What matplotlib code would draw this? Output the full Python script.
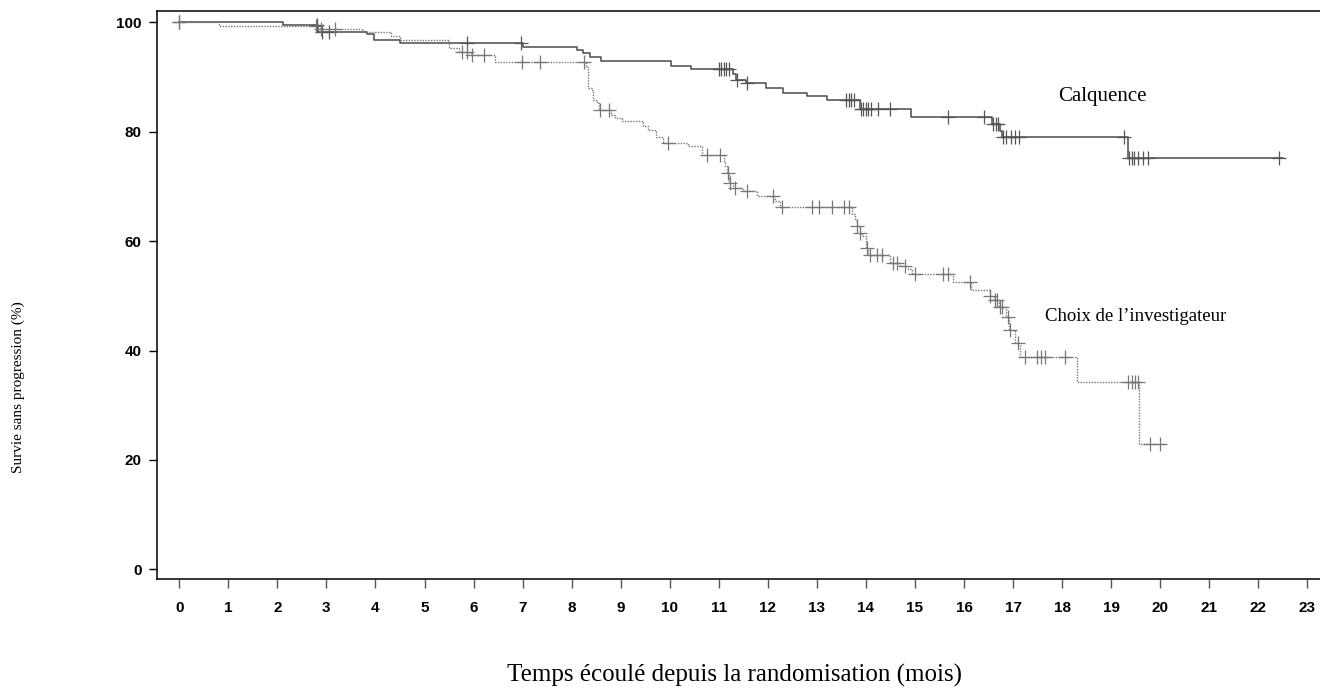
import numpy as np
import matplotlib
matplotlib.use("Agg")
import matplotlib.pyplot as plt

# Kaplan-Meier steps (time in months, survival in %)
calq_t = [0, 2.11, 2.83, 3.83, 3.97, 4.51, 7.0, 8.1, 8.23, 8.37, 8.6, 10.03, 10.43,
          11.3, 11.36, 11.55, 11.96, 12.31, 12.8, 13.2, 13.88, 14.93, 16.57, 16.73,
          16.77, 19.35, 22.5]
calq_s = [100, 99.6, 98.35, 97.9, 96.8, 96.3, 95.6, 95.0, 94.5, 93.6, 93.0, 92.1, 91.5,
          90.6, 89.5, 88.9, 88.0, 87.1, 86.6, 85.9, 84.2, 82.8, 81.5, 80.1,
          79.1, 75.3, 75.3]
calq_cens = [0, 2.8, 2.9, 3.05, 5.87, 6.96, 11.0, 11.05, 11.1, 11.15, 11.2, 11.37, 11.57,
             13.6, 13.65, 13.7, 13.75, 13.9, 13.95, 14.0, 14.05, 14.1, 14.25, 14.5,
             15.68, 16.4, 16.6, 16.65, 16.7, 16.8, 16.85, 16.95, 17.05, 17.12,
             19.26, 19.37, 19.42, 19.47, 19.55, 19.65, 19.75, 22.42]

inv_t = [0, 0.81, 2.87, 3.75, 4.31, 4.5, 5.5, 5.7, 5.95, 6.44, 8.29, 8.34, 8.41, 8.44,
         8.51, 8.55, 8.8, 8.88, 9.02, 9.46, 9.56, 9.73, 9.87, 10.38, 10.65, 11.1, 11.13,
         11.16, 11.21, 11.3, 11.5, 11.77, 12.15, 12.25, 13.72, 13.78, 13.82, 13.87, 13.92,
         14.0, 14.05, 14.49, 14.69, 14.85, 14.95, 15.78, 16.14, 16.53, 16.62, 16.72,
         16.85, 16.91, 17.05, 17.14, 18.3, 19.56, 20.1]
inv_s = [100, 99.4, 98.8, 98.2, 97.6, 96.8, 95.3, 94.6, 94.1, 92.7, 91.95, 88.0, 87.7, 85.9,
         85.3, 84.0, 83.1, 82.5, 81.9, 81.0, 80.4, 79.1, 78.0, 77.4, 75.8, 74.6, 73.7,
         72.4, 70.6, 69.7, 69.1, 68.2, 67.3, 66.3, 65.0, 63.8, 62.8, 61.5, 60.9,
         58.7, 57.5, 56.1, 55.4, 54.9, 54.0, 52.5, 51.1, 49.9, 49.2, 48.0,
         46.2, 43.8, 41.3, 38.9, 34.3, 23.0, 23.0]
inv_cens = [0, 2.78, 2.88, 3.17, 5.76, 5.86, 5.96, 6.21, 6.98, 7.35, 8.25, 8.57, 8.77, 9.97,
            10.75, 11.03, 11.18, 11.23, 11.33, 11.57, 12.11, 12.28, 12.9, 13.05, 13.3, 13.55,
            13.65, 13.82, 13.87, 14.03, 14.08, 14.22, 14.32, 14.56, 14.63, 14.8, 15.0,
            15.58, 15.68, 16.12, 16.53, 16.64, 16.68, 16.74, 16.78, 16.9, 16.93, 17.11,
            17.24, 17.48, 17.58, 17.65, 18.06, 19.35, 19.42, 19.48, 19.55, 19.8, 20.0]

x_ticks = list(range(0, 24))
y_ticks = [0, 20, 40, 60, 80, 100]


def surv_at(times, surv, pts):
    # value of the step function at each censoring time
    idx = np.searchsorted(times, pts, side="right") - 1
    return np.array(surv)[idx]


fig = plt.figure(figsize=(13.2, 7), dpi=100)
ax = fig.add_axes([157 / 1320, 1 - 579 / 700, 1 - 157 / 1320, (579 - 11) / 700])

# curves
ax.plot(calq_t, calq_s, drawstyle="steps-post", color="#4a4a4a", lw=1.1)
ax.plot(inv_t, inv_s, drawstyle="steps-post", color="#777777", lw=1.0,
        linestyle=(0, (1, 1)))

# censoring marks
ax.plot(calq_cens, surv_at(calq_t, calq_s, calq_cens), "+", color="#555555",
        ms=10.5, mew=0.9, ls="none")
ax.plot(inv_cens, surv_at(inv_t, inv_s, inv_cens), "+", color="#777777",
        ms=10.5, mew=0.9, ls="none")

ax.set_xlim(-0.455, 23.26)
ax.set_ylim(-1.77, 102.1)
ax.set_xticks(x_ticks)
ax.set_yticks(y_ticks)
ax.spines["right"].set_visible(False)
for s in ["left", "bottom", "top"]:
    ax.spines[s].set_linewidth(1.1)

ax.tick_params(axis="x", length=6.5, width=1, color="#555555", pad=9)
ax.tick_params(axis="y", length=6, width=1, color="black", pad=5)
for lab in ax.get_xticklabels() + ax.get_yticklabels():
    lab.set_fontfamily("Liberation Sans")
    lab.set_fontweight("bold")
    lab.set_fontsize(11)

serif = "Liberation Serif"
ax.text(17.92, 86.4, "Calquence", family=serif, fontsize=15, ha="left", va="center")
ax.text(17.66, 46.2, "Choix de l\u2019investigateur", family=serif, fontsize=13.5,
        ha="left", va="center")

fig.text(18 / 1320, 1 - 387 / 700, "Survie sans progression (%)", rotation=90,
         family=serif, fontsize=11, ha="center", va="center")
fig.text(735 / 1320, 1 - 675 / 700, "Temps écoulé depuis la randomisation (mois)",
         family=serif, fontsize=18, ha="center", va="center")

fig.savefig("out.png", dpi=100)
